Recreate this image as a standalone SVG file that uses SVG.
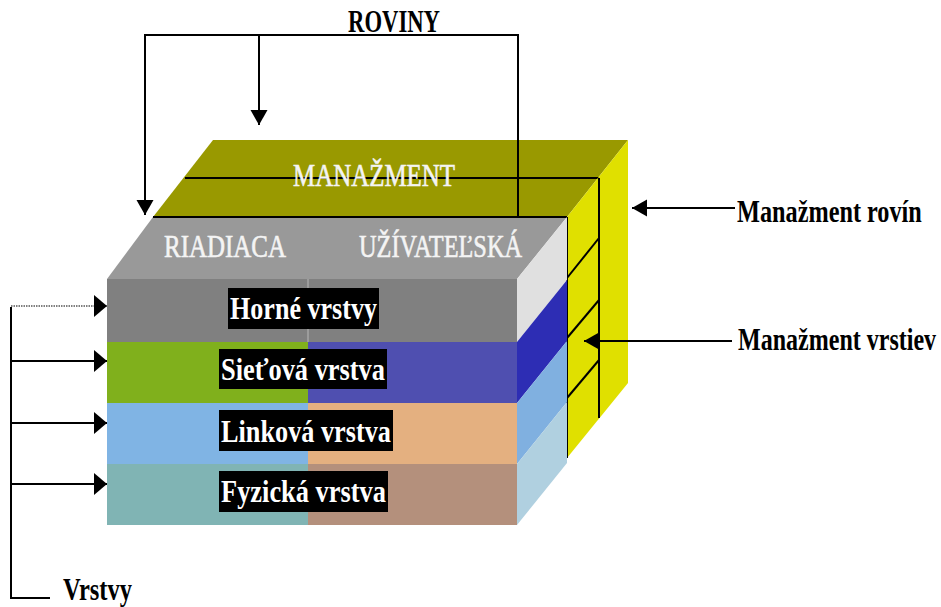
<svg xmlns="http://www.w3.org/2000/svg" width="941" height="607" viewBox="0 0 941 607">
<style>
.lbl{font-family:"Liberation Serif","Times New Roman",serif;font-weight:bold;fill:#000;font-size:31px}
.wt{font-family:"Liberation Serif","Times New Roman",serif;fill:#f4f4f4;stroke:#f4f4f4;stroke-width:0.6;font-size:31px}
.bt{font-family:"Liberation Serif","Times New Roman",serif;font-weight:bold;fill:#fff;font-size:31px}
.ln{stroke:#000;stroke-width:2;fill:none}
</style>
<defs>
<marker id="ah" markerUnits="userSpaceOnUse" markerWidth="16" markerHeight="18" refX="15" refY="8.5" orient="auto"><path d="M0,0 L15,8.5 L0,17 z" fill="#000"/></marker>
<marker id="ahL" markerUnits="userSpaceOnUse" markerWidth="14" markerHeight="23" refX="13" refY="11" orient="auto"><path d="M0,0 L13,11 L0,22 z" fill="#000"/></marker>
</defs>
<rect width="941" height="607" fill="#fff"/>

<g id="management-top">
<polygon points="213,140 628,140 567,217 153,217" fill="#999900"/>
<line x1="185" y1="178" x2="599" y2="178" class="ln"/>
<text class="wt" x="293" y="186" textLength="162" lengthAdjust="spacingAndGlyphs">MANAŽMENT</text>
</g>

<g id="management-side">
<polygon points="567,217 628,140 628,383 567,458" fill="#e0e000"/>
<line x1="599" y1="178" x2="599" y2="418" class="ln"/>
<line x1="567" y1="278" x2="599" y2="238" class="ln"/>
<line x1="567" y1="338" x2="599" y2="300" class="ln"/>
<line x1="567" y1="398" x2="599" y2="360" class="ln"/>
<line x1="567" y1="217" x2="567" y2="458" class="ln"/>
</g>

<g id="planes-top">
<polygon points="153,217 567,217 517,279 107,279" fill="#999999"/>
<line x1="153" y1="217" x2="567" y2="217" class="ln"/>
<text class="wt" x="164" y="257" textLength="122" lengthAdjust="spacingAndGlyphs">RIADIACA</text>
<text class="wt" x="359" y="257" textLength="163" lengthAdjust="spacingAndGlyphs">UŽÍVATEĽSKÁ</text>
</g>

<g id="layer-horne">
<rect x="107" y="279" width="410" height="63" fill="#808080"/>
<line x1="308" y1="279" x2="308" y2="342" stroke="#b8b8b8" stroke-width="1"/>
<polygon points="517,279 567,217 567,280 517,342" fill="#e0e0e0"/>
<rect x="228" y="288" width="151" height="41" fill="#000"/>
<text class="bt" x="230" y="319" textLength="147" lengthAdjust="spacingAndGlyphs">Horné vrstvy</text>
</g>

<g id="layer-sietova">
<rect x="107" y="342" width="201" height="61" fill="#80b01c"/>
<rect x="308" y="342" width="209" height="61" fill="#4f4fb0"/>
<polygon points="517,342 567,280 567,341 517,403" fill="#2d2db4"/>
<rect x="219" y="349" width="168" height="40" fill="#000"/>
<text class="bt" x="221" y="380" textLength="164" lengthAdjust="spacingAndGlyphs">Sieťová vrstva</text>
</g>

<g id="layer-linkova">
<rect x="107" y="403" width="201" height="61" fill="#80b4e4"/>
<rect x="308" y="403" width="209" height="61" fill="#e4b080"/>
<polygon points="517,403 567,341 567,402 517,464" fill="#80b0e0"/>
<rect x="219" y="410" width="174" height="41" fill="#000"/>
<text class="bt" x="221" y="442" textLength="170" lengthAdjust="spacingAndGlyphs">Linková vrstva</text>
</g>

<g id="layer-fyzicka">
<rect x="107" y="464" width="201" height="61" fill="#80b4b4"/>
<rect x="308" y="464" width="209" height="61" fill="#b4907c"/>
<polygon points="517,464 567,402 567,463 517,525" fill="#b0d0e0"/>
<rect x="219" y="471" width="169" height="41" fill="#000"/>
<text class="bt" x="221" y="502" textLength="165" lengthAdjust="spacingAndGlyphs">Fyzická vrstva</text>
</g>

<g id="label-roviny">
<text class="lbl" x="348" y="32" textLength="92" lengthAdjust="spacingAndGlyphs">ROVINY</text>
</g>
<g id="label-manazment-rovin">
<text class="lbl" transform="translate(737,222) scale(0.78,1)" x="0" y="0" textLength="237" lengthAdjust="spacingAndGlyphs">Manažment rovín</text>
</g>
<g id="label-manazment-vrstiev">
<text class="lbl" transform="translate(738,350) scale(0.78,1)" x="0" y="0" textLength="254" lengthAdjust="spacingAndGlyphs">Manažment vrstiev</text>
</g>
<g id="label-vrstvy">
<text class="lbl" x="63" y="600" font-size="30" textLength="69" lengthAdjust="spacingAndGlyphs">Vrstvy</text>
</g>

<g id="connectors">
<polyline points="518,217 518,35 145,35 145,215" class="ln" marker-end="url(#ah)"/>
<line x1="259" y1="35" x2="259" y2="125" class="ln" marker-end="url(#ah)"/>
<line x1="735" y1="208" x2="632" y2="208" class="ln" marker-end="url(#ah)"/>
<line x1="732" y1="341" x2="584" y2="341" class="ln" marker-end="url(#ah)"/>
<polyline points="11,307 11,598 50,598" class="ln"/>
<line x1="11" y1="306" x2="107" y2="306" stroke="#000" stroke-width="1.2" stroke-dasharray="1.5 1" marker-end="url(#ahL)"/>
<line x1="11" y1="361" x2="107" y2="361" class="ln" marker-end="url(#ahL)"/>
<line x1="11" y1="423" x2="107" y2="423" class="ln" marker-end="url(#ahL)"/>
<line x1="11" y1="484" x2="107" y2="484" class="ln" marker-end="url(#ahL)"/>
</g>
</svg>
